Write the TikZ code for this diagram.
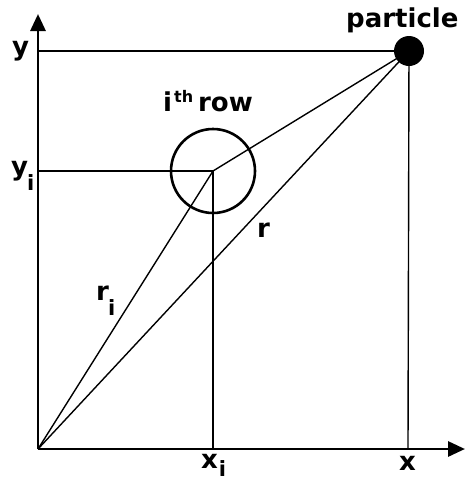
\documentclass[tikz,border=0pt]{standalone}
\usepackage{fontspec}
\setmainfont{DejaVu Sans}
\usetikzlibrary{arrows.meta}
\newcommand{\subi}[2]{\kern#1pt\raisebox{-#2pt}{\fontsize{21}{21}\selectfont i}}
\begin{document}
\begin{tikzpicture}[x=1pt,y=-1pt,
  thinline/.style={line width=1.4pt},
  axisline/.style={line width=2.9pt,-{Triangle[length=17pt,width=15pt]}},
  lab/.style={font=\fontsize{26}{26}\selectfont\bfseries, inner sep=0pt, anchor=base west},
]
\useasboundingbox (0,0) rectangle (465,480);
% axes
\coordinate (O) at (38,449);
\coordinate (yend) at (38,14);
\coordinate (xend) at (465,449);
\coordinate (Yc) at (38,51);
\coordinate (Yic) at (38,171);
\coordinate (Xic) at (213,449);
\coordinate (Xc) at (408,449);
\node[circle, draw, line width=2.6pt, minimum size=84pt, inner sep=0pt] (row) at (213,171) {};
\node[circle, fill, minimum size=30pt, inner sep=0pt] (part) at (409,51) {};
\draw[thinline] (Yc) -- (part.center);
\draw[thinline] (Yic) -- (row.center);
\draw[thinline] (row.center) -- (Xic);
\draw[thinline] (part.center) -- (Xc);
\draw[thinline] (O) -- (row.center);
\draw[thinline] (O) -- (part.center);
\draw[thinline] (row.center) -- (part.center);
\draw[axisline] (O) -- (yend);
\draw[axisline] (O) -- (xend);
% labels
\node[lab] (lparticle) at (346,27) {particle};
\node[lab] (lrow) at (163,111) {i\kern2pt\raisebox{9pt}{\fontsize{16}{16}\selectfont th}\kern5pt row};
\node[lab] (ly) at (12,55) {y};
\node[lab] (lyi) at (11,175) {y\subi{-1}{15}};
\node[lab] (lr) at (257,237) {r};
\node[lab] (lri) at (96,300) {r\subi{-1}{15}};
\node[lab] (lxi) at (201,468) {x\subi{1}{8}};
\node[lab] (lx) at (399,470) {x};
\end{tikzpicture}
\end{document}
